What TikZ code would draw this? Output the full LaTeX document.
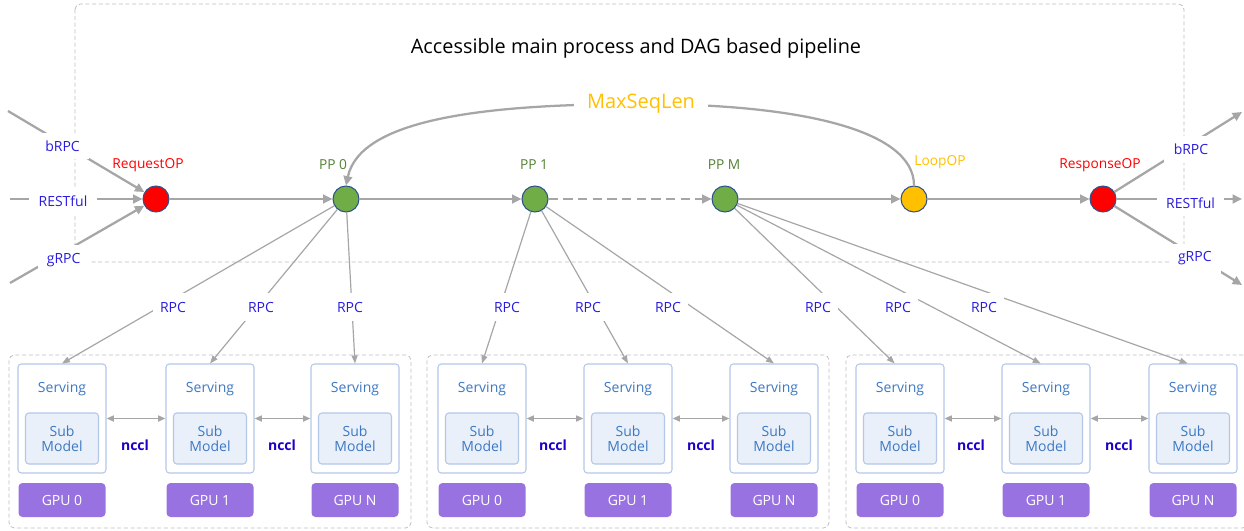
\documentclass[tikz,border=0pt]{standalone}
\usepackage{fontspec}
\setmainfont{Open Sans}
\usepackage{tikz}
\usetikzlibrary{arrows.meta}
\usetikzlibrary{positioning}

\definecolor{flowgray}{HTML}{A6A6A6}
\definecolor{framegray}{HTML}{BFBFBF}
\definecolor{opred}{HTML}{FF0000}
\definecolor{ppgreen}{HTML}{70AD47}
\definecolor{pptext}{HTML}{548235}
\definecolor{loopyel}{HTML}{FFC000}
\definecolor{rimblue}{HTML}{2F528F}
\definecolor{ioblue}{HTML}{2A1CE0}
\definecolor{ncclblue}{HTML}{1A00C8}
\definecolor{servblue}{HTML}{3C78C3}
\definecolor{servrim}{HTML}{B4C7E7}
\definecolor{subfill}{HTML}{E9F0FA}
\definecolor{gpupurple}{HTML}{9972E2}

\begin{document}
\begin{tikzpicture}[x=0.75pt, y=-0.75pt,
  flow/.style={draw=flowgray, line width=1.7pt, -{Triangle[length=7pt,width=6.5pt]}},
  rpcline/.style={draw=flowgray, line width=0.9pt, -{Triangle[length=6pt,width=4.5pt]}},
  duplex/.style={draw=flowgray, line width=1.2pt, {Triangle[length=5.5pt,width=4.5pt]}-{Triangle[length=5.5pt,width=4.5pt]}},
  frame/.style={draw=framegray, densely dashed, line width=0.6pt, rounded corners=4pt},
  op/.style={circle, draw=rimblue, line width=0.8pt, minimum size=19.5pt, inner sep=0pt},
  optext/.style={font=\fontsize{10.3}{12}\selectfont},
  iolbl/.style={fill=white, text=ioblue, font=\fontsize{10.5}{12}\selectfont, inner xsep=7pt, inner ysep=6pt},
  rpctxt/.style={fill=white, text=ioblue, font=\fontsize{10.5}{12}\selectfont, inner xsep=5pt, inner ysep=7pt},
  srvbox/.style={draw=servrim, fill=white, line width=0.8pt, rounded corners=2.5pt, minimum width=66pt, minimum height=81.75pt, inner sep=0pt},
  srvtxt/.style={text=servblue, font=\fontsize{10.5}{12}\selectfont},
  subbox/.style={draw=servrim, fill=subfill, line width=0.8pt, rounded corners=2.5pt, minimum width=54.75pt, minimum height=38.25pt, inner sep=0pt, text=servblue, align=center, font=\fontsize{10.5}{11.5}\selectfont},
  gpubox/.style={fill=gpupurple, rounded corners=3pt, minimum width=65.25pt, minimum height=25.5pt, inner sep=0pt, text=white, font=\fontsize{10.5}{12}\selectfont},
  nccltxt/.style={text=ncclblue, font=\bfseries\fontsize{10.5}{12}\selectfont},
]
  \useasboundingbox (0,0) rectangle (1244,531);

  % heights in px of the reference
  \def\ym{199}
  \def\yl{165}
  \def\ys{418.5}
  \def\yt{389}
  \def\yb{438.5}
  \def\yg{500}
  \def\yr{307}
  \def\yn{445}

  % frames
  \draw[frame] (75,4) rectangle (1184,262);
  \draw[frame] (9,355) rectangle (411,528);
  \draw[frame] (427,355) rectangle (829,528);
  \draw[frame] (846,355) rectangle (1248,528);

  \node[font=\fontsize{14.9}{17}\selectfont] (title) at (636,48) {Accessible main process and DAG based pipeline};

  % pipeline ops
  \node[op, fill=opred] (req) at (156,\ym) {};
  \node[op, fill=ppgreen] (pp0) at (346,\ym) {};
  \node[op, fill=ppgreen] (pp1) at (535,\ym) {};
  \node[op, fill=ppgreen] (ppm) at (725,\ym) {};
  \node[op, fill=loopyel] (loop) at (914,\ym) {};
  \node[op, fill=opred] (resp) at (1103,\ym) {};

  \node[optext, text=opred] (reqtxt) at (148,\yl) {RequestOP};
  \node[optext, text=pptext] (pp0txt) at (333,\yl) {PP 0};
  \node[optext, text=pptext] (pp1txt) at (534,\yl) {PP 1};
  \node[optext, text=pptext] (ppmtxt) at (724,\yl) {PP M};
  \node[optext, text=loopyel] (looptxt) at (940,162) {LoopOP};
  \node[optext, text=opred] (resptxt) at (1100,\yl) {ResponseOP};

  \draw[flow] (req) -- (pp0);
  \draw[flow] (pp0) -- (pp1);
  \draw[flow, dash pattern=on 7pt off 4pt] (pp1) -- (ppm);
  \draw[flow] (ppm) -- (loop);
  \draw[flow] (loop) -- (resp);

  \draw[flow] (loop.north) .. controls (914,130) and (800,104) .. (641,104)
    node[fill=white, text=loopyel, font=\fontsize{15}{18}\selectfont, inner xsep=10pt] (maxlen) {MaxSeqLen}
    .. controls (480,104) and (360,120) .. (pp0.north);

  % requests in and out
  \coordinate (bin) at (8,111);
  \coordinate (rin) at (10,199);
  \coordinate (gin) at (10,283);
  \coordinate (bout) at (1242,112);
  \coordinate (rout) at (1242,199);
  \coordinate (gout) at (1242,285);

  \draw[flow] (bin) -- node[iolbl, pos=0.4, yshift=-2pt] (binl) {bRPC} (req);
  \draw[flow] (rin) -- node[iolbl, pos=0.4, yshift=-2pt] (rinl) {RESTful} (req);
  \draw[flow] (gin) -- node[iolbl, pos=0.4, yshift=-6pt] (ginl) {gRPC} (req);
  \draw[flow] (resp) -- node[iolbl, pos=0.6, yshift=-4pt] (boutl) {bRPC} (bout);
  \draw[flow] (resp) -- node[iolbl, pos=0.59, yshift=-3pt] (routl) {RESTful} (rout);
  \draw[flow] (resp) -- node[iolbl, pos=0.63, yshift=-2pt] (goutl) {gRPC} (gout);

  % serving groups
  \node[srvbox] (s0a) at (62,\ys) {};
  \node[srvbox] (s0b) at (210,\ys) {};
  \node[srvbox] (s0c) at (355,\ys) {};
  \node[srvbox] (s1a) at (482,\ys) {};
  \node[srvbox] (s1b) at (628,\ys) {};
  \node[srvbox] (s1c) at (774,\ys) {};
  \node[srvbox] (s2a) at (900,\ys) {};
  \node[srvbox] (s2b) at (1046,\ys) {};
  \node[srvbox] (s2c) at (1193,\ys) {};

  \node[srvtxt] (t0a) at (62,\yt) {Serving};
  \node[srvtxt] (t0b) at (210,\yt) {Serving};
  \node[srvtxt] (t0c) at (355,\yt) {Serving};
  \node[srvtxt] (t1a) at (482,\yt) {Serving};
  \node[srvtxt] (t1b) at (628,\yt) {Serving};
  \node[srvtxt] (t1c) at (774,\yt) {Serving};
  \node[srvtxt] (t2a) at (900,\yt) {Serving};
  \node[srvtxt] (t2b) at (1046,\yt) {Serving};
  \node[srvtxt] (t2c) at (1193,\yt) {Serving};

  \node[subbox] (m0a) at (62,\yb) {Sub\\Model};
  \node[subbox] (m0b) at (210,\yb) {Sub\\Model};
  \node[subbox] (m0c) at (355,\yb) {Sub\\Model};
  \node[subbox] (m1a) at (482,\yb) {Sub\\Model};
  \node[subbox] (m1b) at (628,\yb) {Sub\\Model};
  \node[subbox] (m1c) at (774,\yb) {Sub\\Model};
  \node[subbox] (m2a) at (900,\yb) {Sub\\Model};
  \node[subbox] (m2b) at (1046,\yb) {Sub\\Model};
  \node[subbox] (m2c) at (1193,\yb) {Sub\\Model};

  \node[gpubox] (g0a) at (62,\yg) {GPU 0};
  \node[gpubox] (g0b) at (210,\yg) {GPU 1};
  \node[gpubox] (g0c) at (355,\yg) {GPU N};
  \node[gpubox] (g1a) at (482,\yg) {GPU 0};
  \node[gpubox] (g1b) at (628,\yg) {GPU 1};
  \node[gpubox] (g1c) at (774,\yg) {GPU N};
  \node[gpubox] (g2a) at (900,\yg) {GPU 0};
  \node[gpubox] (g2b) at (1046,\yg) {GPU 1};
  \node[gpubox] (g2c) at (1193,\yg) {GPU N};

  % nccl links
  \draw[duplex] (s0a.east) -- (s0b.west);
  \draw[duplex] (s0b.east) -- (s0c.west);
  \draw[duplex] (s1a.east) -- (s1b.west);
  \draw[duplex] (s1b.east) -- (s1c.west);
  \draw[duplex] (s2a.east) -- (s2b.west);
  \draw[duplex] (s2b.east) -- (s2c.west);
  \node[nccltxt] (n0a) at (135,\yn) {nccl};
  \node[nccltxt] (n0b) at (282,\yn) {nccl};
  \node[nccltxt] (n1a) at (553,\yn) {nccl};
  \node[nccltxt] (n1b) at (701,\yn) {nccl};
  \node[nccltxt] (n2a) at (971,\yn) {nccl};
  \node[nccltxt] (n2b) at (1119,\yn) {nccl};

  % rpc fan out
  \draw[rpcline] (pp0) -- (s0a.north);
  \draw[rpcline] (pp0) -- (s0b.north);
  \draw[rpcline] (pp0) -- (s0c.north);
  \draw[rpcline] (pp1) -- (s1a.north);
  \draw[rpcline] (pp1) -- (s1b.north);
  \draw[rpcline] (pp1) -- (s1c.north);
  \draw[rpcline] (ppm) -- ([xshift=-4pt]s2a.north);
  \draw[rpcline] (ppm) -- ([xshift=-4pt]s2b.north);
  \draw[rpcline] (ppm) -- ([xshift=-4pt]s2c.north);

  \node[rpctxt] (r0a) at (173,\yr) {RPC};
  \node[rpctxt] (r0b) at (261,\yr) {RPC};
  \node[rpctxt] (r0c) at (350,\yr) {RPC};
  \node[rpctxt] (r1a) at (507,\yr) {RPC};
  \node[rpctxt] (r1b) at (588,\yr) {RPC};
  \node[rpctxt] (r1c) at (668,\yr) {RPC};
  \node[rpctxt] (r2a) at (818,\yr) {RPC};
  \node[rpctxt] (r2b) at (898,\yr) {RPC};
  \node[rpctxt] (r2c) at (984,\yr) {RPC};

\end{tikzpicture}
\end{document}
